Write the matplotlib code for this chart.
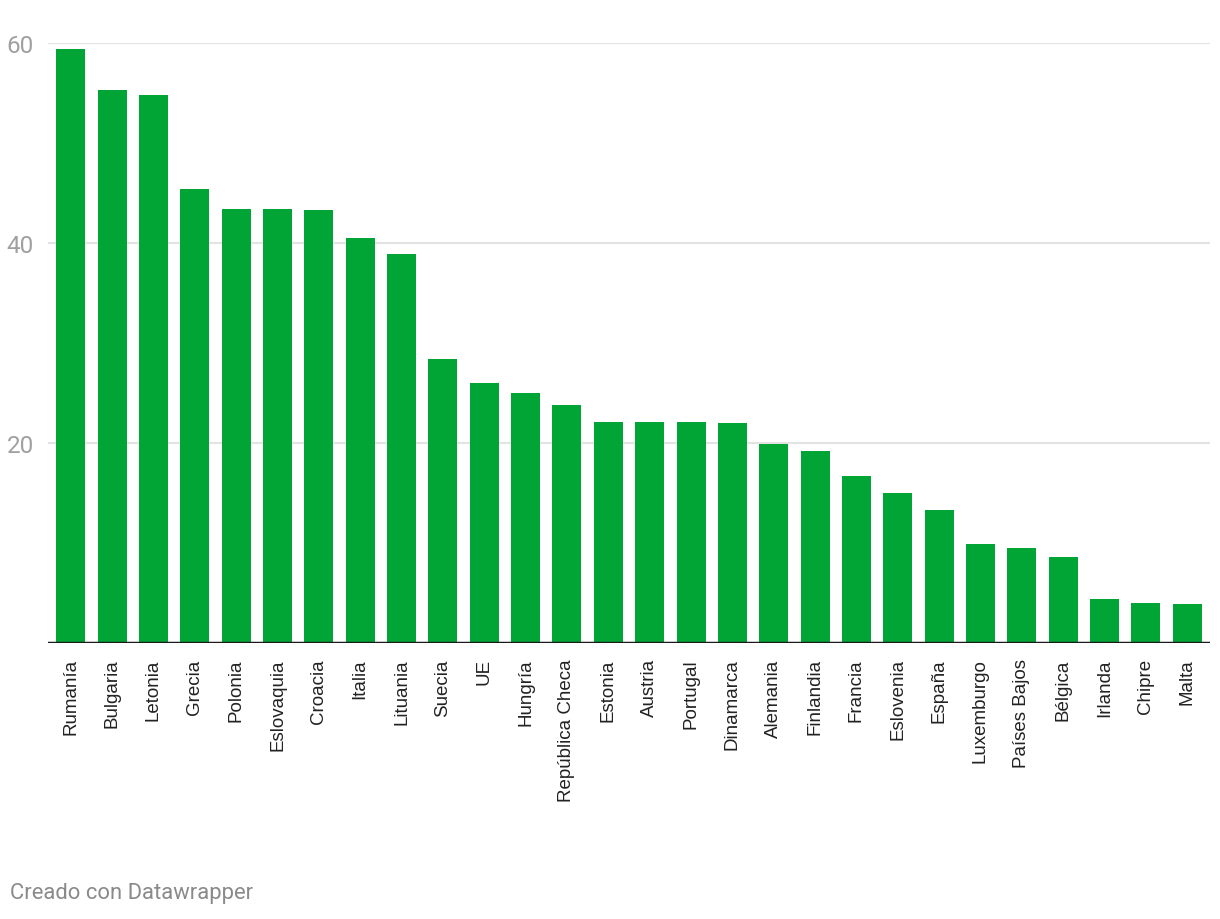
import matplotlib
matplotlib.use("Agg")
import matplotlib.pyplot as plt
import numpy as np

plt.rcParams['font.family'] = ['Roboto', 'DejaVu Sans']

paises = ['Rumanía', 'Bulgaria', 'Letonia', 'Grecia', 'Polonia', 'Eslovaquia',
          'Croacia', 'Italia', 'Lituania', 'Suecia', 'UE', 'Hungría',
          'República Checa', 'Estonia', 'Austria', 'Portugal', 'Dinamarca',
          'Alemania', 'Finlandia', 'Francia', 'Eslovenia', 'España',
          'Luxemburgo', 'Países Bajos', 'Bélgica', 'Irlanda', 'Chipre', 'Malta']
valores = [59.4, 55.3, 54.8, 45.4, 43.4, 43.4, 43.3, 40.5, 38.9, 28.4, 26.0,
           25.0, 23.8, 22.1, 22.1, 22.1, 22.0, 19.9, 19.2, 16.7, 15.0, 13.3,
           9.9, 9.5, 8.6, 4.4, 4.0, 3.9]
yticks = [20, 40, 60]

W, H = 1220, 920
fig = plt.figure(figsize=(W / 100, H / 100), dpi=100)
ax = fig.add_axes([48 / W, 1 - 644 / H, (1210 - 48) / W, (644 - 44) / H])

x = np.arange(len(paises))
ax.bar(x, valores, width=0.7, color='#00a535', zorder=2)
ax.set_xlim(-0.55, len(paises) - 0.45)
ax.set_ylim(0, 60)

for t in yticks:
    ax.axhline(t, color='#e3e3e3', lw=1.5, zorder=1)
ax.axhline(0, color='#1a1a1a', lw=2.5, zorder=3)

ax.set_yticks(yticks)
ax.set_yticklabels([str(t) for t in yticks], color='#a0a0a0', fontsize=17.5)
ax.tick_params(axis='y', length=0, pad=10)
ax.set_xticks(x)
ax.set_xticklabels(paises, rotation=90, fontsize=13.5, color='#222222',
                   family=['Liberation Sans', 'DejaVu Sans'])
ax.tick_params(axis='x', length=0, pad=11)
for s in ax.spines.values():
    s.set_visible(False)

fig.text(10 / W, 1 - 894 / H, 'Creado con Datawrapper', color='#8a8a8a',
         fontsize=15.8, va='center', ha='left')

fig.savefig('out.png', dpi=100)
